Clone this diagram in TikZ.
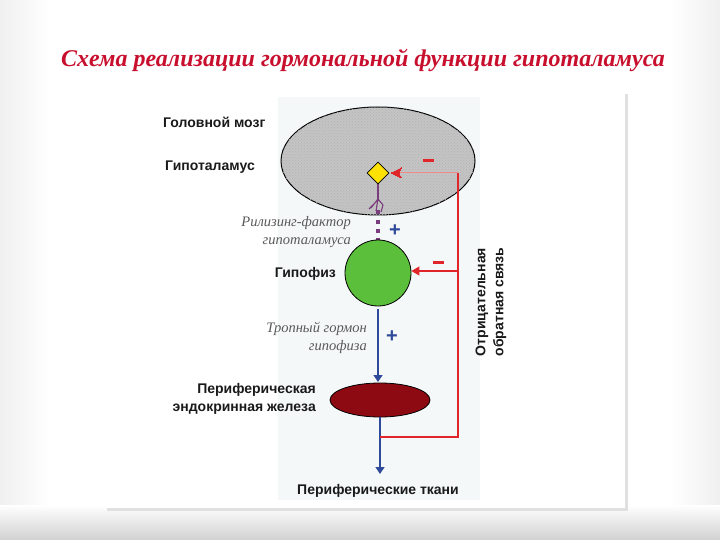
\documentclass[tikz,border=0pt]{standalone}
\usepackage{fontspec}
\setmainfont{Liberation Serif}
\setsansfont{Liberation Sans}
\usetikzlibrary{arrows.meta,shapes.geometric,patterns}
\definecolor{titlered}{HTML}{C8102E}
\definecolor{fbred}{HTML}{E0262B}
\definecolor{fbpink}{HTML}{F08A8A}
\definecolor{arrblue}{HTML}{2F4A9A}
\definecolor{recpurple}{HTML}{7A3D7E}
\definecolor{glandgreen}{HTML}{5CBF3C}
\definecolor{glandred}{HTML}{8E0A12}
\definecolor{brain}{HTML}{C4C4C4}
\definecolor{panel}{HTML}{F4F8F8}
\definecolor{labtext}{HTML}{1A1A1A}
\definecolor{ittext}{HTML}{5A5A5A}
\tikzset{
  lab/.style={font=\sffamily\bfseries\fontsize{14}{18}\selectfont, text=labtext, inner sep=0pt},
  itlab/.style={font=\itshape\fontsize{14.5}{18}\selectfont, text=ittext, inner sep=0pt, align=right},
  blueflow/.style={draw=arrblue, line width=1.3pt, -{Triangle[length=7pt,width=9pt]}},
  redflow/.style={draw=fbred, line width=1.3pt},
  redtip/.style={-{Triangle[length=8pt,width=9pt]}},
  plussign/.style={font=\sffamily\bfseries\fontsize{20}{20}\selectfont, inner sep=0pt, text=arrblue},
  minussign/.style={fill=fbred, minimum width=11pt, minimum height=3pt, inner sep=0pt},
}
\begin{document}
\begin{tikzpicture}[x=1pt,y=-1pt]
\useasboundingbox (0,0) rectangle (720,540);
% slide background
\fill[white] (0,0) rectangle (720,540);
\shade[left color=black!6, right color=white] (0,0) rectangle (50,540);
\shade[left color=white, right color=black!6] (670,0) rectangle (720,540);
\shade[top color=white, bottom color=black!18] (0,505) rectangle (720,540);
% white panel
\fill[black!12] (107,94) rectangle (628,511);
\fill[white] (105,92) rectangle (625,508);
\fill[panel] (278,97) rectangle (480,500);
% title
\node[font=\bfseries\itshape\fontsize{24}{28}\selectfont, text=titlered, inner sep=0pt] (title) at (363,60) {Схема реализации гормональной функции гипоталамуса};
% brain
\node[ellipse, draw=black, line width=1pt, fill=brain, minimum width=194pt, minimum height=108pt, inner sep=0pt,
      postaction={pattern=crosshatch dots, pattern color=black!30}] (brain) at (378,161) {};
% feedback line inside brain (light)
\coordinate (fbtop) at (458,173);
\node[diamond, draw=black, line width=0.8pt, fill=yellow!85!orange, minimum width=22pt, minimum height=22pt, inner sep=0pt] (hyp) at (378,173) {};
\draw[fbpink, line width=1pt] (fbtop) -- (398,173);
\draw[fbred, line width=0pt, fill=fbred] (391,173) -- (401,168) -- (399,173) -- (401,178) -- cycle;
\node[minussign] (m1) at (428,161) {};
% receptor
\coordinate (r0) at (378,199);
\draw[recpurple, line width=1.3pt] (hyp.south) -- (r0);
\draw[recpurple, line width=1.1pt] (r0) -- (371,208) (r0) -- (376,211) (r0) -- (383,205) (374,204) -- (369,209) (383,205) -- (381,212);
% dotted release factor
\foreach \yy/\nm in {212/d1,222/d2,231/d3,240/d4}
  \node[fill=recpurple, minimum size=4pt, inner sep=0pt] (\nm) at (378,\yy) {};
\node[plussign] (p1) at (395,231) {+};
\node[itlab, anchor=east] (rf) at (351,232) {Рилизинг-фактор\\гипоталамуса};
% pituitary
\node[circle, draw=black, line width=0.8pt, fill=glandgreen, minimum size=66pt, inner sep=0pt] (pit) at (378,273) {};
\node[lab, anchor=east] (lpit) at (336,274) {Гипофиз};
% gland
\node[ellipse, draw=black, line width=0.8pt, fill=glandred, minimum width=100pt, minimum height=34pt, inner sep=0pt] (gland) at (380,400) {};
% blue flows
\coordinate (gtop) at (378,382);
\draw[blueflow] (pit.south) ++(0,3) -- (gtop);
\node[plussign] (p2) at (392,337) {+};
\node[itlab, anchor=east] (trop) at (367,338) {Тропный гормон\\гипофиза};
\coordinate (tis) at (380,474);
\draw[blueflow] (gland.south) -- (tis);
\coordinate (j) at (380,437);
% red feedback
\draw[redflow] (j) -- (458,437) -- (fbtop);
\coordinate (fbmid) at (458,271);
\draw[redflow, redtip] (fbmid) -- (pit.east |- fbmid);
\node[minussign] (m2) at (438,262) {};
% labels
\node[lab, anchor=west] (lbrain) at (163,122) {Головной мозг};
\node[lab, anchor=west] (lhyp) at (165,167) {Гипоталамус};
\node[lab, anchor=east, align=right] (lgland) at (316,399) {Периферическая\\эндокринная железа};
\node[lab] (ltis) at (378,491) {Периферические ткани};
\node[lab, rotate=90, align=center] (lfb) at (491,302) {Отрицательная\\обратная связь};
\end{tikzpicture}
\end{document}
